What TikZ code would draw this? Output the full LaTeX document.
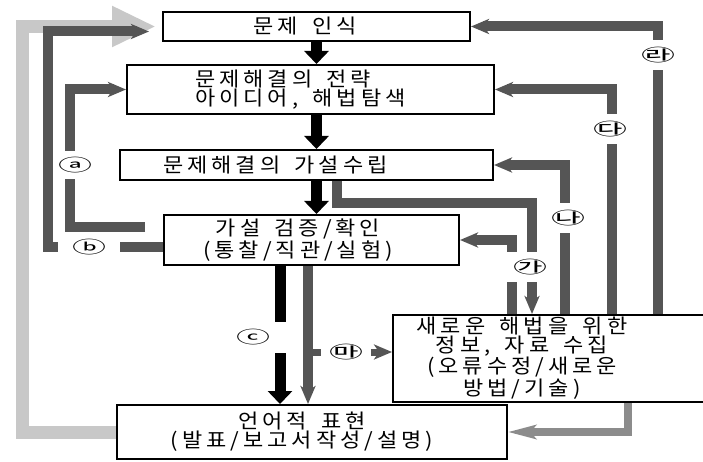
\documentclass[tikz,border=0pt]{standalone}
\usepackage{fontspec}
\usepackage{graphicx}
\usetikzlibrary{arrows.meta,calc}
\newfontfamily\kr[LetterSpace=20,FakeStretch=1.1,WordSpace=1.6]{Noto Sans CJK KR}
\newfontfamily\krtag{Noto Sans CJK KR}
\newcommand{\circtag}[1]{\scalebox{2.0}[1]{#1}}
\definecolor{lnGray}{HTML}{555555}
\definecolor{bigGray}{HTML}{C8C8C8}
\definecolor{retGray}{HTML}{8C8C8C}
\tikzset{>=Stealth}

\begin{document}
\begin{tikzpicture}[x=1pt, y=-1pt,
  box/.style={draw=black, line width=2pt, inner sep=0pt},
  txt/.style={font=\kr\fontsize{20}{17.5}\selectfont, align=center, inner sep=0pt},
  flow/.style={line width=11pt, -{Triangle[length=13pt,width=24pt]}},
  back/.style={draw=lnGray, line width=10pt, -{Stealth[length=18pt,width=15pt,inset=5pt]}},
  big/.style={draw=bigGray, line width=13pt, -{Triangle[length=44pt,width=38pt]}},
  ret/.style={draw=retGray, line width=8pt, -{Stealth[length=28pt,width=14pt,inset=6pt]}},
  tag/.style={fill=white, inner sep=0pt, font=\krtag\fontsize{17}{17}\selectfont}
]
\useasboundingbox (0,0) rectangle (703,462);

% Cajas
\node[box, minimum width=307pt, minimum height=29pt] (rec)  at (316.5,26.5) {};
\node[box, minimum width=367pt, minimum height=49pt] (idea) at (310.5,89.5) {};
\node[box, minimum width=373pt, minimum height=30pt] (hyp)  at (306.5,165) {};
\node[box, minimum width=295pt, minimum height=50pt] (test) at (311.5,240) {};
\node[box, minimum width=313pt, minimum height=87pt] (info) at (549.5,358.5) {};
\node[box, minimum width=390pt, minimum height=54pt] (expr) at (312,432) {};

% Textos
\node[txt] (rectxt) at (305,26.5) {문제 인식};
\node[txt, align=left, anchor=west] (ideatxt) at (195,89.5) {문제해결의 전략\\ 아이디어, 해법탐색};
\node[txt, anchor=west] (hyptxt) at (163,165) {문제해결의 가설수립};
\node[txt] (testtxt) at (298,240) {가설 검증/확인\\(통찰/직관/실험)};
\node[txt] (infotxt) at (522,358) {새로운 해법을 위한\\정보, 자료 수집\\(오류수정/새로운\\방법/기술)};
\node[txt] (exprtxt) at (302,432) {언어적 표현\\(발표/보고서작성/설명)};

% Puntos de giro
\coordinate (aS)  at (145,227);
\coordinate (aX)  at (70,0);
\coordinate (bX)  at (48,0);
\coordinate (lgX) at (22,0);
\coordinate (kaX) at (512,0);
\coordinate (kaR) at (532,203);
\coordinate (naX) at (565,0);
\coordinate (daX) at (612,0);
\coordinate (raX) at (658,0);
\coordinate (btX) at (628,0);
\coordinate (maS) at (308,352);
\coordinate (bS)  at ([yshift=-7pt]test.west);
\coordinate (bE)  at ([yshift=-5pt]rec.west);

% Retorno grande
\draw[big] (expr.west) -- (expr.west -| lgX) |- ([xshift=-6pt]rec.west);

% Flujo principal
\draw[flow] (rec.south) -- (rec.south |- idea.north);
\draw[flow] (idea.south -| rec.south) -- (hyp.north -| rec.south);
\draw[flow] (hyp.south -| rec.south) -- (test.north -| rec.south);
\draw[flow] ([xshift=-31.5pt]test.south) -- ([xshift=-31.5pt]test.south |- expr.north);

% Lazos de vuelta
\draw[back] (aS) -- (aS -| aX) |- (idea.west);
\draw[back, shorten >=13pt] (bS) -- (bS -| bX) |- (bE);
\draw[back] ([xshift=-3.5pt]test.south) -- ([xshift=-3.5pt]test.south |- expr.north);
\draw[back] ([xshift=30pt]hyp.south) |- (kaR) -- (kaR |- info.north);
\draw[back] (kaX |- info.north) |- (test.east);
\draw[back] (info.north -| naX) |- (hyp.east);
\draw[back] (info.north -| daX) |- (idea.east);
\draw[back] (info.north -| raX) |- (rec.east);
\draw[back, line width=7pt] (maS) -- (maS -| info.west);
\draw[ret] (info.south -| btX) |- (expr.east);

% Etiquetas
\node[tag, minimum width=40pt, minimum height=28pt] (ta) at (75,165) {\circtag{ⓐ}};
\node[tag, minimum width=62pt, minimum height=15pt] (tb) at (89,247) {\circtag{ⓑ}};
\node[tag, minimum width=74pt, minimum height=31pt] (tc) at (253,337) {\circtag{ⓒ}};
\node[tag, minimum width=58pt, minimum height=30pt] (tga) at (530,267) {\circtag{㉮}};
\node[tag, minimum width=36pt, minimum height=30pt] (tna) at (568,218) {\circtag{㉯}};
\node[tag, minimum width=36pt, minimum height=30pt] (tda) at (610,129) {\circtag{㉰}};
\node[tag, minimum width=36pt, minimum height=30pt] (tra) at (658,55) {\circtag{㉱}};
\node[tag, minimum width=50pt, minimum height=15pt] (tma) at (346,352) {\circtag{㉲}};

\end{tikzpicture}
\end{document}
